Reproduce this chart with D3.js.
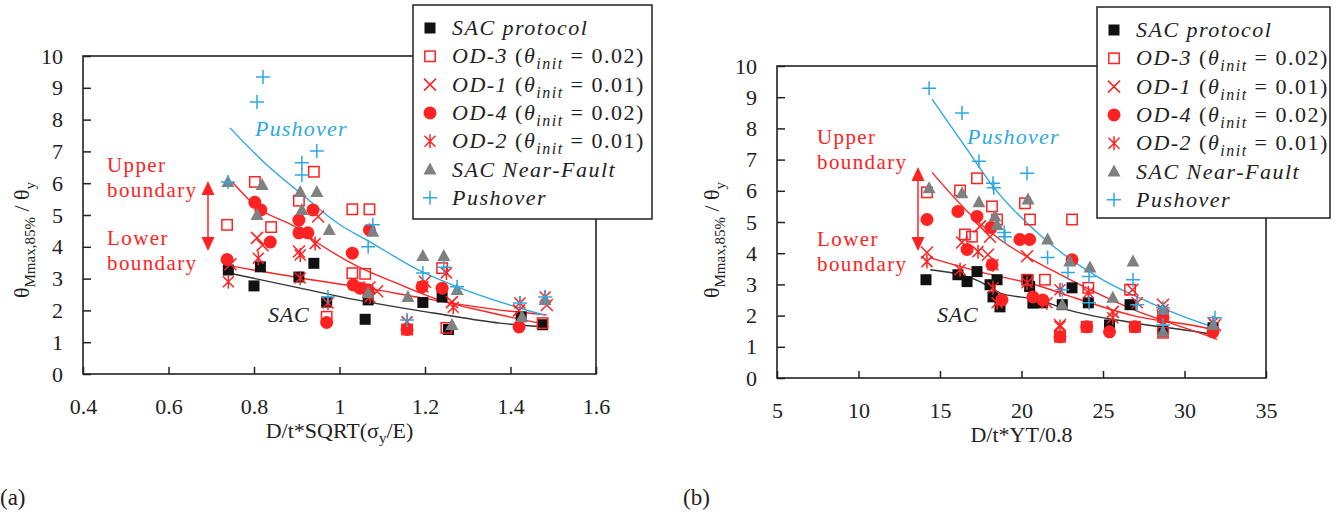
<!DOCTYPE html>
<html>
<head>
<meta charset="utf-8">
<script src="https://cdn.jsdelivr.net/npm/d3@7"></script>
<style>
  body { margin: 0; background: #fff; }
  svg { display: block; }
  text { font-family: "Liberation Serif", "Times New Roman", serif; }
</style>
</head>
<body>
<svg id="chart" width="1339" height="526"></svg>
<script>
// ---------- Panel (a): x = D/t*SQRT(σy/E) ----------
const xTicksA = [0.4, 0.6, 0.8, 1.0, 1.2, 1.4, 1.6];
const xTickLabelsA = ["0.4", "0.6", "0.8", "1", "1.2", "1.4", "1.6"];

const sacA = [[0.74,3.27],[0.80,2.77],[0.815,3.37],[0.905,3.05],[0.94,3.48],[0.97,2.26],[1.06,1.72],[1.067,2.33],[1.195,2.25],[1.24,2.42],[1.255,1.4],[1.425,1.8],[1.475,1.55]];
const od3A = [[0.737,4.69],[0.802,6.04],[0.84,4.62],[0.905,5.45],[0.94,6.36],[1.03,5.18],[1.07,5.18],[1.03,3.17],[1.06,3.15],[1.24,3.33],[1.158,1.4],[1.25,1.45],[1.475,1.6],[0.97,1.8]];
const od1A = [[0.745,3.45],[0.807,4.28],[0.82,4.05],[0.905,3.85],[0.95,4.95],[1.07,2.72],[1.088,2.6],[1.2,2.9],[1.263,2.26],[1.485,2.17],[1.42,2.0]];
const od4A = [[0.737,3.6],[0.802,5.4],[0.816,5.16],[0.838,4.15],[0.905,4.84],[0.905,4.44],[0.926,4.44],[0.938,5.16],[1.03,3.8],[1.07,4.53],[1.032,2.8],[1.048,2.7],[1.067,2.64],[0.97,1.62],[1.193,2.74],[1.24,2.7],[1.42,1.48],[1.158,1.4]];
const od2A = [[0.74,2.9],[0.81,3.64],[0.908,3.74],[0.908,3.02],[0.943,4.1],[0.973,2.23],[1.071,2.42],[1.158,1.64],[1.195,2.74],[1.25,3.18],[1.266,2.1],[1.422,2.23],[1.481,2.42]];
const nfA = [[0.739,6.04],[0.819,5.94],[0.807,5.0],[0.908,5.72],[0.947,5.72],[0.912,5.16],[0.976,4.53],[1.078,4.47],[1.067,2.55],[1.195,3.71],[1.244,3.71],[1.275,2.64],[1.16,2.42],[1.263,1.54],[1.427,1.79],[1.481,2.33]];
const pushA = [[0.739,6.04],[0.821,9.34],[0.807,8.55],[0.947,7.01],[0.912,6.64],[0.912,6.26],[1.078,4.69],[1.067,4.0],[0.973,2.42],[1.195,3.18],[1.244,3.36],[1.275,2.74],[1.158,1.7],[1.422,2.23],[1.481,2.42]];

// trend curves, panel (a)
const pushFitA = [[0.744,7.74],[0.82,6.7],[0.908,5.69],[1.0,4.7],[1.064,4.21],[1.195,3.2],[1.275,2.74],[1.415,2.1],[1.48,1.85]];
const upperFitA = [[0.749,6.04],[0.807,5.25],[0.9,4.6],[0.954,4.08],[1.04,3.4],[1.135,2.85],[1.24,2.3],[1.336,1.98],[1.453,1.64],[1.48,1.57]];
const lowerFitA = [[0.732,3.43],[0.908,3.02],[1.064,2.7],[1.181,2.42],[1.219,2.33],[1.375,2.01],[1.485,1.86]];
const sacFitA = [[0.732,3.2],[0.908,2.7],[1.04,2.33],[1.181,2.0],[1.219,1.92],[1.375,1.6],[1.485,1.48]];

// ---------- Panel (b): x = D/t*YT/0.8 ----------
const xTicksB = [5, 10, 15, 20, 25, 30, 35];
const xTickLabelsB = ["5", "10", "15", "20", "25", "30", "35"];

const sacB = [[14.14,3.15],[16.1,3.31],[16.66,3.09],[17.27,3.41],[18.07,2.99],[18.5,3.15],[18.25,2.6],[18.68,2.28],[20.4,3.15],[20.5,2.93],[20.7,2.4],[21.3,2.41],[22.5,2.35],[23.1,2.89],[24.1,2.41],[25.4,1.7],[26.66,2.35],[28.68,1.5],[31.75,1.61]];
const od3B = [[14.2,5.95],[16.23,6.01],[17.27,6.4],[18.19,5.5],[18.5,5.08],[20.21,5.6],[20.52,5.08],[23.1,5.08],[16.53,4.6],[16.96,4.53],[20.34,3.15],[21.44,3.15],[24.1,2.89],[26.66,2.83],[28.68,1.96],[22.36,1.32],[24.0,1.64],[26.96,1.64],[28.68,1.45]];
const od1B = [[14.2,4.02],[16.35,4.34],[17.45,4.86],[18.07,4.53],[17.94,3.95],[20.34,3.9],[22.36,1.7],[25.6,2.12],[26.8,2.83],[28.68,2.35],[31.87,1.7]];
const od4B = [[14.2,5.08],[16.1,5.34],[17.27,5.18],[18.13,4.82],[16.66,4.12],[18.19,3.63],[19.9,4.44],[20.5,4.44],[23.1,3.79],[20.7,2.6],[21.3,2.5],[18.8,2.5],[25.4,1.48],[28.68,1.93],[31.75,1.48],[22.36,1.32],[24.0,1.64],[26.96,1.64]];
const od2B = [[14.2,3.73],[16.23,3.47],[17.33,4.05],[18.25,3.63],[18.25,2.89],[20.34,3.05],[21.56,2.41],[18.5,2.41],[22.36,2.83],[24.1,2.73],[25.6,1.93],[27.1,2.41],[28.68,2.19],[31.75,1.77],[22.36,1.65]];
const nfB = [[14.33,6.08],[16.35,5.92],[17.39,5.63],[18.37,5.18],[18.5,4.9],[20.4,5.72],[21.6,4.44],[22.96,3.73],[24.2,3.54],[25.6,2.57],[26.84,3.73],[28.68,2.19],[31.75,1.7],[22.5,2.35],[28.68,1.48]];
const pushB = [[14.33,9.29],[16.35,8.49],[17.39,6.95],[18.25,6.24],[18.3,6.1],[20.34,6.56],[18.93,4.66],[18.99,4.53],[21.6,3.86],[22.85,3.38],[22.5,2.83],[24.14,3.25],[24.14,2.41],[26.84,3.15],[27.1,2.35],[28.68,2.25],[28.68,1.7],[31.87,1.93]];

// trend curves, panel (b)
const pushFitB = [[14.51,8.94],[16.66,7.33],[18.25,6.14],[21.2,4.55],[24.8,3.2],[27.9,2.41],[31.75,1.64],[32,1.6]];
const upperFitB = [[14.51,6.59],[17.45,4.95],[18.68,4.44],[22.8,3.2],[26.84,2.2],[31.75,1.29],[32,1.24]];
const lowerFitB = [[14.4,3.85],[17.45,3.4],[21.1,2.95],[22.8,2.65],[26.84,2.0],[31.75,1.54],[32,1.5]];
const sacFitB = [[14.4,3.47],[17.45,3.09],[18.68,2.72],[21.1,2.5],[22.8,2.19],[26.84,1.77],[31.75,1.38],[32,1.35]];

// ---------- shared ----------
const yTicks = [0, 1, 2, 3, 4, 5, 6, 7, 8, 9, 10];
const legendNames = ["SAC protocol", "OD-3", "OD-1", "OD-4", "OD-2", "SAC Near-Fault", "Pushover"];
const legendTypes = ["sac", "od3", "od1", "od4", "od2", "nf", "push"];
const legendTheta = [null, "0.02", "0.01", "0.02", "0.01", null, null];

const RED = "#ff2222";
const BLUE = "#2ea8e2";
const GRAY = "#808080";
const INK = "#222";

const svg = d3.select("#chart");

function drawMarker(g, type, x, y) {
  switch (type) {
    case "sac":
      g.append("rect").attr("x", x - 5.5).attr("y", y - 5.5).attr("width", 11).attr("height", 11).attr("fill", "#111");
      break;
    case "od3":
      g.append("rect").attr("x", x - 5.2).attr("y", y - 5.2).attr("width", 10.4).attr("height", 10.4)
        .attr("fill", "none").attr("stroke", RED).attr("stroke-width", 1.5);
      break;
    case "od1":
      g.append("path").attr("d", `M${x-6},${y-6}L${x+6},${y+6}M${x-6},${y+6}L${x+6},${y-6}`)
        .attr("stroke", RED).attr("stroke-width", 1.5).attr("fill", "none");
      break;
    case "od4":
      g.append("circle").attr("cx", x).attr("cy", y).attr("r", 6.5).attr("fill", RED);
      break;
    case "od2":
      g.append("path").attr("d", `M${x-5.5},${y-5.5}L${x+5.5},${y+5.5}M${x-5.5},${y+5.5}L${x+5.5},${y-5.5}M${x},${y-7}L${x},${y+7}`)
        .attr("stroke", RED).attr("stroke-width", 1.5).attr("fill", "none");
      break;
    case "nf":
      g.append("path").attr("d", `M${x},${y-7}L${x+6.5},${y+5}L${x-6.5},${y+5}Z`).attr("fill", GRAY);
      break;
    case "push":
      g.append("path").attr("d", `M${x-7},${y}L${x+7},${y}M${x},${y-7}L${x},${y+7}`)
        .attr("stroke", BLUE).attr("stroke-width", 1.5).attr("fill", "none");
      break;
  }
}

function drawPanel(p) {
  const x = d3.scaleLinear().domain(p.xDomain).range([p.left, p.right]);
  const y = d3.scaleLinear().domain([0, 10]).range([p.bottom, p.top]);
  const g = svg.append("g");

  // x axis with inward ticks
  const ax = g.append("g").attr("transform", `translate(0,${p.bottom})`)
    .call(d3.axisBottom(x).tickValues(p.xTicks).tickFormat((d, i) => p.xTickLabels[i])
      .tickSizeInner(-7).tickSizeOuter(0).tickPadding(24));
  ax.select(".domain").remove();
  ax.selectAll(".tick line").attr("stroke", INK).attr("stroke-width", 1.5);
  ax.selectAll(".tick text").attr("font-size", 22).attr("fill", INK).attr("font-family", "Liberation Serif");

  // y axis with inward ticks
  const ay = g.append("g").attr("transform", `translate(${p.left},0)`)
    .call(d3.axisLeft(y).tickValues(yTicks).tickFormat(d3.format("d"))
      .tickSizeInner(-8).tickSizeOuter(0).tickPadding(p.yPad));
  ay.select(".domain").remove();
  ay.selectAll(".tick line").attr("stroke", INK).attr("stroke-width", 1.5);
  ay.selectAll(".tick text").attr("font-size", 22).attr("fill", INK).attr("font-family", "Liberation Serif");

  // frame
  g.append("rect").attr("x", p.left).attr("y", p.top).attr("width", p.right - p.left).attr("height", p.bottom - p.top)
    .attr("fill", "none").attr("stroke", INK).attr("stroke-width", 1.6);

  // axis titles
  g.append("text").attr("x", (p.left + p.right) / 2 + p.xTitleShift).attr("y", p.bottom + 64)
    .attr("text-anchor", "middle").attr("font-size", 22).attr("fill", INK)
    .call(t => p.xTitle(t));

  const yt = g.append("text").attr("transform", `translate(${p.yTitleX},${p.yTitleY}) rotate(-90)`)
    .attr("text-anchor", "middle").attr("font-size", 22).attr("fill", INK);
  yt.append("tspan").text("θ");
  yt.append("tspan").attr("font-size", 15).attr("dy", 6).text("Mmax,85%");
  yt.append("tspan").attr("dy", -6).text(" / θ");
  yt.append("tspan").attr("font-size", 15).attr("dy", 6).text("y");

  // trend curves
  const line = d3.line().x(d => x(d[0])).y(d => y(d[1])).curve(d3.curveMonotoneX);
  const fits = [[p.sacFit, "#333"], [p.lowerFit, RED], [p.upperFit, RED], [p.pushFit, BLUE]];
  fits.forEach(([data, c]) => {
    g.append("path").datum(data).attr("d", line).attr("fill", "none").attr("stroke", c).attr("stroke-width", 1.4);
  });

  // scatter series
  const series = [["sac", p.sac], ["od3", p.od3], ["od1", p.od1], ["od4", p.od4], ["od2", p.od2], ["nf", p.nf], ["push", p.push]];
  const mg = g.append("g");
  series.forEach(([type, data]) => data.forEach(d => drawMarker(mg, type, x(d[0]), y(d[1]))));

  // annotations
  const red = (tx, ty, s) => g.append("text").attr("x", tx).attr("y", ty).attr("font-size", 21).attr("fill", RED).attr("letter-spacing", 1.4).text(s);
  red(p.bndX, p.upperY, "Upper");
  red(p.bndX, p.upperY + 25, "boundary");
  red(p.bndX, p.lowerY, "Lower");
  red(p.bndX, p.lowerY + 25, "boundary");

  // double-headed arrow
  g.append("line").attr("x1", p.arrowX).attr("x2", p.arrowX).attr("y1", p.arrowTop + 12).attr("y2", p.arrowBot - 12)
    .attr("stroke", RED).attr("stroke-width", 1.5);
  g.append("path").attr("d", `M${p.arrowX},${p.arrowTop}L${p.arrowX+6.5},${p.arrowTop+14}L${p.arrowX-6.5},${p.arrowTop+14}Z`).attr("fill", RED);
  g.append("path").attr("d", `M${p.arrowX},${p.arrowBot}L${p.arrowX+6.5},${p.arrowBot-14}L${p.arrowX-6.5},${p.arrowBot-14}Z`).attr("fill", RED);

  g.append("text").attr("x", p.pushLabel[0]).attr("y", p.pushLabel[1]).attr("font-size", 22).attr("font-style", "italic")
    .attr("letter-spacing", 1.2).attr("fill", BLUE).text("Pushover");
  g.append("text").attr("x", p.sacLabel[0]).attr("y", p.sacLabel[1]).attr("font-size", 22).attr("font-style", "italic")
    .attr("letter-spacing", 0.8).attr("fill", INK).text("SAC");

  // legend
  const lg = svg.append("g");
  lg.append("rect").attr("x", p.legend[0]).attr("y", p.legend[1]).attr("width", p.legend[2]).attr("height", p.legend[3])
    .attr("fill", "#fff").attr("stroke", INK).attr("stroke-width", 1.5);
  legendNames.forEach((name, i) => {
    const cy = p.legend[1] + 23 + i * 28.3;
    drawMarker(lg, legendTypes[i], p.legend[0] + 17, cy);
    const t = lg.append("text").attr("x", p.legend[0] + 39).attr("y", cy + 7).attr("font-size", 22).attr("fill", INK)
      .attr("letter-spacing", 1.5);
    t.append("tspan").attr("font-style", "italic").text(name);
    if (legendTheta[i]) {
      t.append("tspan").text(" (");
      t.append("tspan").attr("font-style", "italic").text("θ");
      t.append("tspan").attr("font-style", "italic").attr("font-size", 16).attr("dy", 6).text("init");
      t.append("tspan").attr("dy", -6).text(" = " + legendTheta[i] + ")");
    }
  });
}

drawPanel({
  xDomain: [0.4, 1.6], left: 83, right: 596, top: 56, bottom: 374, yPad: 20,
  xTicks: xTicksA, xTickLabels: xTickLabelsA,
  xTitle: t => { t.append("tspan").text("D/t*SQRT(σ"); t.append("tspan").attr("font-size", 15).attr("dy", 5).text("y"); t.append("tspan").attr("dy", -5).text("/E)"); },
  xTitleShift: 0, yTitleX: 29, yTitleY: 240,
  sac: sacA, od3: od3A, od1: od1A, od4: od4A, od2: od2A, nf: nfA, push: pushA,
  pushFit: pushFitA, upperFit: upperFitA, lowerFit: lowerFitA, sacFit: sacFitA,
  bndX: 107, upperY: 172, lowerY: 245, arrowX: 208, arrowTop: 181, arrowBot: 251,
  pushLabel: [255, 136], sacLabel: [268, 322],
  legend: [413, 5, 239, 214]
});

drawPanel({
  xDomain: [5, 35], left: 777, right: 1266, top: 66, bottom: 378, yPad: 20,
  xTicks: xTicksB, xTickLabels: xTickLabelsB,
  xTitle: t => { t.append("tspan").text("D/t*YT/0.8"); },
  xTitleShift: 0, yTitleX: 719, yTitleY: 240,
  sac: sacB, od3: od3B, od1: od1B, od4: od4B, od2: od2B, nf: nfB, push: pushB,
  pushFit: pushFitB, upperFit: upperFitB, lowerFit: lowerFitB, sacFit: sacFitB,
  bndX: 817, upperY: 144, lowerY: 246, arrowX: 918, arrowTop: 167, arrowBot: 251,
  pushLabel: [967, 144], sacLabel: [937, 322],
  legend: [1097, 7, 233, 211]
});

// panel captions
svg.append("text").attr("x", 0).attr("y", 505).attr("font-size", 23).attr("fill", INK).text("(a)");
svg.append("text").attr("x", 683).attr("y", 505).attr("font-size", 23).attr("fill", INK).text("(b)");
</script>
</body>
</html>
